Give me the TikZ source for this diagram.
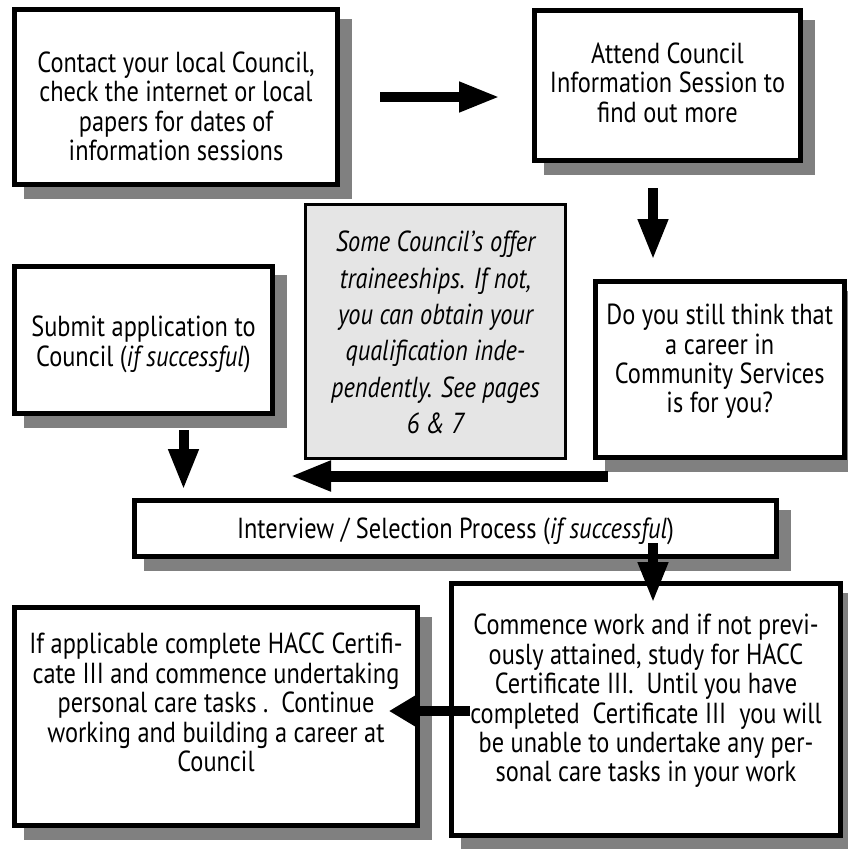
\documentclass[tikz,border=0pt]{standalone}
\usepackage{fontspec}
\setmainfont[FakeStretch=0.84]{PT Sans}
\usetikzlibrary{arrows.meta}
\pgfdeclarelayer{background}
\pgfsetlayers{background,main}
\begin{document}
\begin{tikzpicture}[x=1pt,y=-1pt,
  box/.style={draw, line width=5pt, fill=white, outer sep=0pt, inner sep=0pt},
  note/.style={draw, line width=3pt, fill=black!10, outer sep=0pt, inner sep=0pt},
  txt/.style={align=center, inner sep=0pt, font=\fontsize{29}{29.4}\selectfont},
  itxt/.style={align=center, inner sep=0pt, font=\fontsize{29}{36.4}\selectfont\itshape},
  arr/.style={line width=10pt, -{Triangle[length=41pt,width=28pt]}},
  shadowc/.style={fill=black!50}]
\useasboundingbox (0,0) rectangle (847,849);

% boxes
\node[box, minimum width=323pt, minimum height=175pt] (contact) at (176,97) {};
\node[box, minimum width=266pt, minimum height=150pt] (attend) at (667.5,85.5) {};
\node[note, minimum width=260pt, minimum height=254pt] (note) at (435.5,331.5) {};
\node[box, minimum width=258pt, minimum height=147pt] (submit) at (143.5,339.5) {};
\node[box, minimum width=248.5pt, minimum height=176pt] (doyou) at (719.75,369.5) {};
\node[box, minimum width=642pt, minimum height=56pt] (interview) at (455.5,528.5) {};
\node[box, minimum width=389pt, minimum height=252pt] (commence) at (646,709.5) {};
\node[box, minimum width=402.5pt, minimum height=218pt] (ifapp) at (216,716.5) {};

% shadows
\begin{pgfonlayer}{background}
\foreach \n in {contact,attend,submit,doyou,interview,commence,ifapp}
  \fill[shadowc] ([shift={(9pt,-9pt)}]\n.north west) rectangle ([shift={(14.5pt,-14.5pt)}]\n.south east);
\end{pgfonlayer}

% texts
\node[txt] (contactT) at (176,106.5) {Contact your local Council,\\check the internet or local\\papers for dates of\\information sessions};
\node[txt] (attendT) at (667.5,82.5) {Attend Council\\Information Session to\\find out more};
\node[itxt] (noteT) at (435.5,332.5) {Some Council’s offer\\traineeships. If not,\\you can obtain your\\qualification inde-\\pendently. See pages\\6 \& 7};
\node[txt] (submitT) at (143.5,344.5) {Submit application to\\Council (\textit{if successful})};
\node[txt] (doyouT) at (719.75,361.5) {Do you still think that\\a career in\\Community Services\\is for you?};
\node[txt] (interviewT) at (455.5,531.5) {Interview / Selection Process (\textit{if successful})};
\node[txt] (commenceT) at (646,701) {Commence work and if not previ-\\ously attained, study for HACC\\Certificate III.\ \ Until you have\\completed\ \ Certificate III\ \ you will\\be unable to undertake any per-\\sonal care tasks in your work};
\node[txt] (ifappT) at (216,702.5) {If applicable complete HACC Certifi-\\cate III and commence undertaking\\personal care tasks .\ \ Continue\\working and building a career at\\Council};

% arrow ends
\coordinate (a1s) at (380,97);   \coordinate (a1e) at (500,97);
\coordinate (a2s) at (653,188);  \coordinate (a2e) at (653,260);
\coordinate (a3s) at (183.5,430);\coordinate (a3e) at (183.5,490);
\coordinate (a4s) at (608,476);  \coordinate (a4e) at (290,476);
\coordinate (a5s) at (653,543);  \coordinate (a5e) at (653,603);
\coordinate (a6s) at (470,711);  \coordinate (a6e) at (389,711);

\draw[arr] (a1s) -- (a1e);
\draw[arr] (a2s) -- (a2e);
\draw[arr] (a3s) -- (a3e);
\draw[arr, line width=11pt] (a4s) -- (a4e);
\draw[arr] (a5s) -- (a5e);
\draw[line width=10pt, -{Triangle[length=27pt,width=30pt]}] (a6s) -- (a6e);
\end{tikzpicture}
\end{document}
